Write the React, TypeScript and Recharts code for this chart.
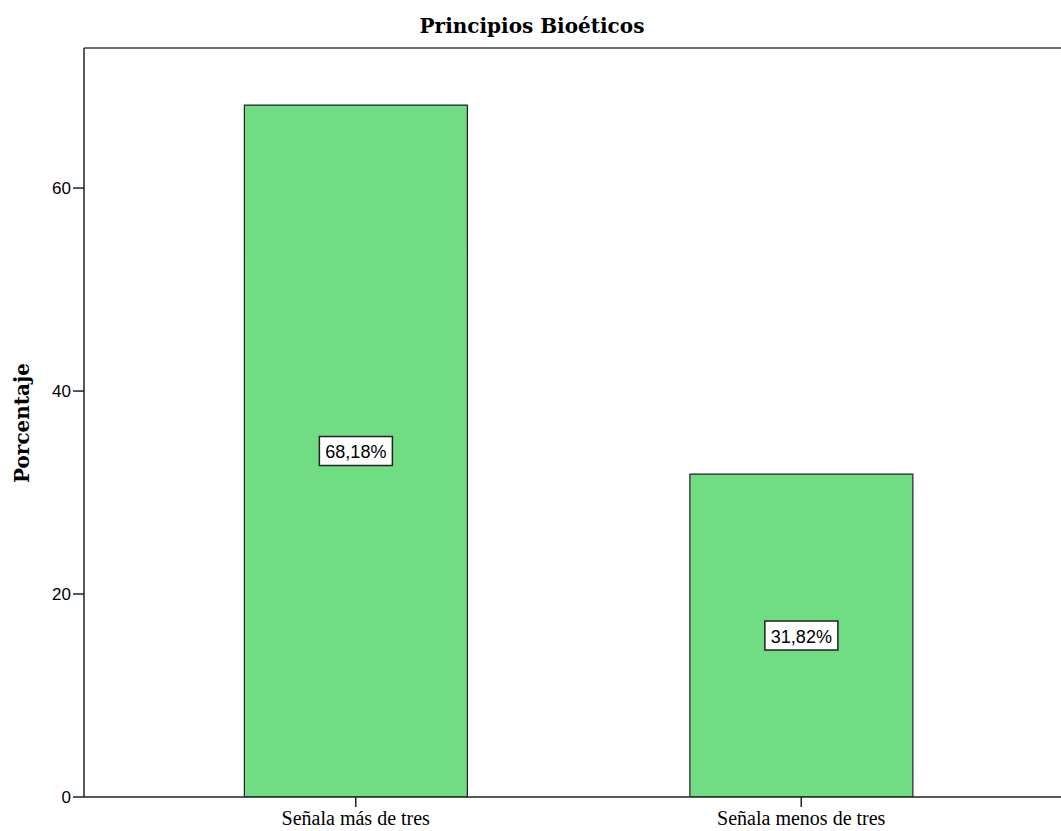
import React from "react";
import { BarChart, Bar, XAxis, YAxis, LabelList, ReferenceLine } from "recharts";

// Categories and percentages
const categories = ["Señala más de tres", "Señala menos de tres"];
const percentages = [68.18, 31.82];
const percentLabels = ["68,18%", "31,82%"];
const yTicks = [0, 20, 40, 60];
const yMax = 73.8;

const data = categories.map((name, i) => ({
  name,
  value: percentages[i],
  label: percentLabels[i],
}));

const serif = "'DejaVu Serif', 'Liberation Serif', serif";
const tickSerif = "'Liberation Serif', 'Times New Roman', serif";
const sans = "'Liberation Sans', Arial, sans-serif";

const BoxLabel = (props: any) => {
  const { x, y, width, height, value } = props;
  const cx = x + width / 2;
  const cy = y + height / 2;
  const w = 73;
  const h = 29;
  return (
    <g>
      <rect x={cx - w / 2} y={cy - h / 2} width={w} height={h} fill="#ffffff" stroke="#222" strokeWidth={1.5} />
      <text x={cx} y={cy + 1} textAnchor="middle" dominantBaseline="central" fontFamily={sans} fontSize={18} fill="#000">
        {value}
      </text>
    </g>
  );
};

export default function App() {
  return (
    <div style={{ position: "absolute", left: 0, top: 0, width: 1061, height: 831, background: "#fff" }}>
      <BarChart
        width={1061}
        height={831}
        data={data}
        margin={{ top: 48, right: 0, bottom: 4, left: 0 }}
        barCategoryGap="25%"
      >
        <text x={532} y={26} textAnchor="middle" dominantBaseline="central" fontFamily={serif} fontWeight="bold" fontSize={20} fill="#000">
          Principios Bioéticos
        </text>
        <text
          x={22}
          y={423}
          textAnchor="middle"
          dominantBaseline="central"
          transform="rotate(-90 22 423)"
          fontFamily={serif}
          fontWeight="bold"
          fontSize={20}
          fill="#000"
        >
          Porcentaje
        </text>
        <XAxis
          dataKey="name"
          height={30}
          padding={{ left: 49, right: 37 }}
          axisLine={{ stroke: "#222", strokeWidth: 1.5 }}
          tickLine={{ stroke: "#222", strokeWidth: 1.5 }}
          tickSize={10}
          tickMargin={4}
          tick={{ fontFamily: tickSerif, fontSize: 20, fill: "#000" }}
        />
        <YAxis
          width={84}
          domain={[0, yMax]}
          ticks={yTicks}
          allowDataOverflow
          axisLine={{ stroke: "#222", strokeWidth: 1.5 }}
          tickLine={{ stroke: "#222", strokeWidth: 1.5 }}
          tickSize={11}
          tickMargin={2}
          tick={{ fontFamily: sans, fontSize: 17, fill: "#000" }}
        />
        <ReferenceLine y={yMax} stroke="#444" strokeWidth={1.5} />
        <Bar dataKey="value" fill="#70DC84" stroke="#222" strokeWidth={1.2} isAnimationActive={false}>
          <LabelList dataKey="label" content={<BoxLabel />} />
        </Bar>
      </BarChart>
    </div>
  );
}
